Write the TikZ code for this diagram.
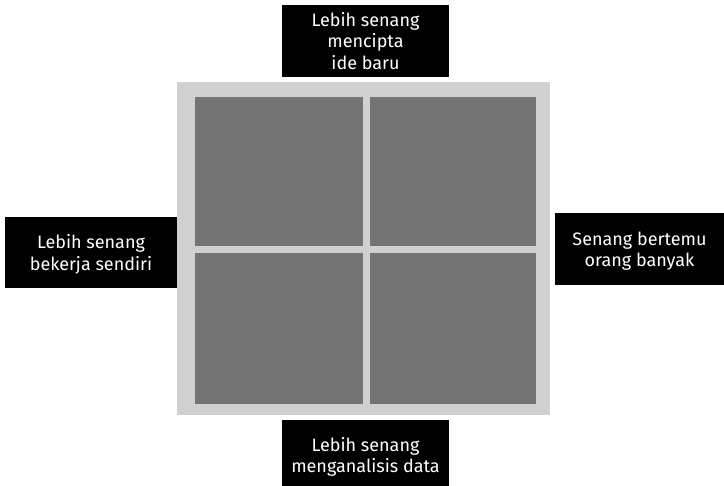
\documentclass[tikz,border=0pt]{standalone}
\usepackage{fontspec}
\setmainfont{Fira Sans}
\definecolor{lightbg}{HTML}{D0D0D0}
\definecolor{panel}{HTML}{747474}
\begin{document}
\begin{tikzpicture}[x=1pt,y=-1pt,
  label box/.style={fill=black,text=white,align=center,inner sep=0pt,
    font=\fontsize{18}{21.5}\selectfont},
  panelbox/.style={fill=panel}]
\useasboundingbox (0,0) rectangle (724,486);
\fill[lightbg] (177,82) rectangle (550,415);
\fill[panelbox] (195,97) rectangle (363,246);
\fill[panelbox] (370,97) rectangle (536,246);
\fill[panelbox] (195,253) rectangle (363,404);
\fill[panelbox] (370,253) rectangle (536,404);
\fill (282,5) rectangle (449,77);
\node[label box] (top) at (365.5,41) {Lebih senang\\mencipta\\ide baru};
\fill (5,217) rectangle (177,288);
\node[label box] (left) at (91,254.5) {Lebih senang\\bekerja sendiri};
\fill (555,213) rectangle (724,285);
\node[label box] (right) at (639.5,251) {Senang bertemu\\orang banyak};
\fill (282,420) rectangle (449,486);
\node[label box] (bottom) at (365.5,457) {Lebih senang\\menganalisis data};
\end{tikzpicture}
\end{document}
